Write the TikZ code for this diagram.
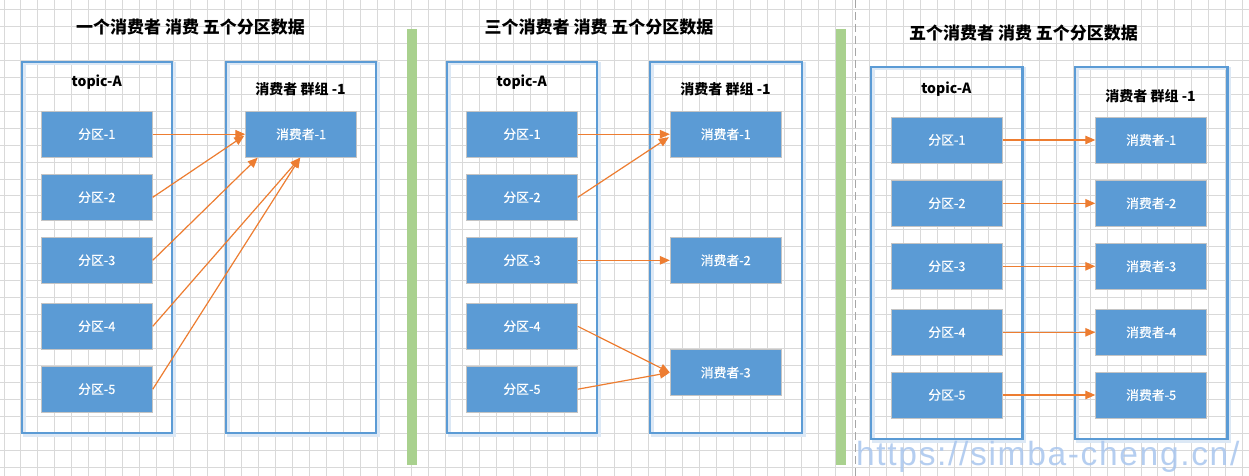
\documentclass[tikz,border=0pt]{standalone}
\usepackage{fontspec}
\setmainfont{Noto Sans CJK SC}
\newfontfamily\labelfont[FakeBold=0.6]{Noto Sans CJK SC}
\newfontfamily\wmfont[LetterSpace=5]{Liberation Sans}
\usetikzlibrary{arrows.meta,calc}
\definecolor{boxblue}{HTML}{5B9BD5}
\definecolor{gridgray}{HTML}{D9D9D9}
\definecolor{arrowor}{HTML}{ED7D31}
\definecolor{bargreen}{HTML}{A9D18E}
\definecolor{wmblue}{HTML}{A9C6EE}
\definecolor{boxedge}{HTML}{C4C4C4}
\definecolor{glow}{HTML}{DCE8F5}
\tikzset{
  gridline/.style={draw=gridgray, line width=1pt},
  container/.style={draw=boxblue, line width=2.5pt},
  containerglow/.style={draw=glow, line width=3pt},
  part/.style={fill=boxblue, draw=boxedge, line width=0.9pt, text=white,
    font=\labelfont\fontsize{12.8}{14}\selectfont, minimum height=46pt, inner sep=0pt},
  ttl/.style={font=\bfseries\fontsize{17}{20}\selectfont, inner sep=0pt},
  sub/.style={font=\bfseries\fontsize{14}{16}\selectfont, inner sep=0pt},
  flow/.style={draw=arrowor, line width=1.2pt, -{Triangle[length=10pt,width=8.5pt]}},
  bar/.style={fill=bargreen, draw=none},
  divider/.style={draw=gray!70, line width=1pt, dash pattern=on 8pt off 4pt},
}
\begin{document}
\begin{tikzpicture}[x=1pt,y=-1pt]
\useasboundingbox (0,0) rectangle (1249,476);
\fill[white] (0,0) rectangle (1249,476);
% grid
\foreach \i in {0,...,73} { \draw[gridline] ({4+16.97*\i},0) -- ({4+16.97*\i},476); }
\foreach \j in {0,...,27} { \draw[gridline] (0,{9.3+16.97*\j}) -- (1249,{9.3+16.97*\j}); }

% separators
\fill[bar] (407,29) rectangle (417,465);
\fill[bar] (835.5,29) rectangle (845.5,465);
\draw[divider] (855.5,0) -- (855.5,476);

% ---------- panel 1 ----------
\node[ttl] (t1) at (190.5,27) {一个消费者 消费 五个分区数据};
\draw[containerglow] (24,64) rectangle (174,435);
\draw[container] (22,62) rectangle (172,433);
\draw[containerglow] (228,64) rectangle (378,435);
\draw[container] (226,62) rectangle (376,433);
\node[sub] (ta1) at (96.7,82) {topic-A};
\node[sub] (g1) at (300.5,89) {消费者 群组 -1};
\foreach \n/\y in {1/134.2,2/197.3,3/260.3,4/326.3,5/389.2}
  \node[part, minimum width=111pt] (p1\n) at (96.8,\y) {分区-\n};
\node[part, minimum width=111pt] (c11) at (301.2,134.2) {消费者-1};
\draw[flow] (p11.east) -- (c11.west);
\draw[flow] (p12.east) -- ($(c11.west)+(-1,1.5)$);
\draw[flow] (p13.east) -- ($(c11.south west)+(12.5,0)$);
\draw[flow] (p14.east) -- ($(c11.south)+(-1,0)$);
\draw[flow] (p15.east) -- ($(c11.south)+(-1,0)$);

% ---------- panel 2 ----------
\node[ttl] (t2) at (599,27) {三个消费者 消费 五个分区数据};
\draw[containerglow] (449,64) rectangle (599,435);
\draw[container] (447,62) rectangle (597,433);
\draw[containerglow] (652,64) rectangle (804,435);
\draw[container] (650,62) rectangle (802,433);
\node[sub] (ta2) at (521.7,82) {topic-A};
\node[sub] (g2) at (725.5,89) {消费者 群组 -1};
\foreach \n/\y in {1/134.2,2/197.3,3/260.3,4/326.3,5/389.2}
  \node[part, minimum width=110.6pt] (p2\n) at (522,\y) {分区-\n};
\node[part, minimum width=111pt] (c21) at (725.8,134.2) {消费者-1};
\node[part, minimum width=111pt] (c22) at (725.8,260.3) {消费者-2};
\node[part, minimum width=111pt] (c23) at (725.8,372.5) {消费者-3};
\draw[flow] (p21.east) -- (c21.west);
\draw[flow] (p22.east) -- ($(c21.west)+(-1,3)$);
\draw[flow] (p23.east) -- (c22.west);
\draw[flow] (p24.east) -- (c23.west);
\draw[flow] (p25.east) -- (c23.west);

% ---------- panel 3 ----------
\node[ttl] (t3) at (1023.5,33.3) {五个消费者 消费 五个分区数据};
\draw[containerglow] (873,69) rectangle (1024.7,441);
\draw[container] (871,67) rectangle (1022.7,439);
\draw[containerglow] (1077,69) rectangle (1229.3,441);
\draw[container] (1075,67) rectangle (1227.3,439);
\node[sub] (ta3) at (946.3,88.7) {topic-A};
\node[sub] (g3) at (1150.5,95.8) {消费者 群组 -1};
\foreach \n/\y in {1/140,2/203.3,3/266.3,4/332.3,5/395}
  {\node[part, minimum width=111.7pt] (p3\n) at (946.9,\y) {分区-\n};
   \node[part, minimum width=111pt] (c3\n) at (1151.2,\y) {消费者-\n};
   \draw[flow] (p3\n.east) -- (c3\n.west);}

% watermark
\node[anchor=base west, inner sep=0pt, text=wmblue, opacity=0.85,
  font=\wmfont\fontsize{33.5}{36}\selectfont] (wm) at (856,465) {https://simba-cheng.cn/};
\end{tikzpicture}
\end{document}
